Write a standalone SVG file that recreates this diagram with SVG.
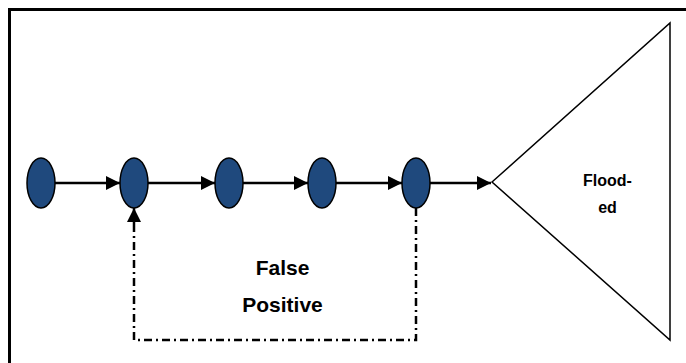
<svg xmlns="http://www.w3.org/2000/svg" width="686" height="363" viewBox="0 0 686 363">
<defs>
<marker id="ah" viewBox="0 0 14 14" refX="14" refY="7" markerWidth="14" markerHeight="14" markerUnits="userSpaceOnUse" orient="auto">
<path d="M0,0 L14,7 L0,14 Z" fill="#000"/>
</marker>
<style>
.node{fill:#1f497d;stroke:#000;stroke-width:1.5}
.conn{stroke:#000;stroke-width:2.5;fill:none}
.dash{stroke:#000;stroke-width:2.5;fill:none;stroke-dasharray:8 4 2 4}
.lbl{font-family:"Liberation Sans",Arial,sans-serif;font-weight:bold;fill:#000;text-anchor:middle}
</style>
</defs>
<rect width="686" height="363" fill="#fff"/>
<rect x="9.5" y="9.5" width="720" height="400" fill="none" stroke="#000" stroke-width="3"/>
<g id="connectors">
<line class="conn" x1="55" y1="183" x2="120" y2="183" marker-end="url(#ah)"/>
<line class="conn" x1="148" y1="183" x2="215" y2="183" marker-end="url(#ah)"/>
<line class="conn" x1="243" y1="183" x2="308" y2="183" marker-end="url(#ah)"/>
<line class="conn" x1="336" y1="183" x2="402" y2="183" marker-end="url(#ah)"/>
<line class="conn" x1="430" y1="183" x2="491" y2="183" marker-end="url(#ah)"/>
<polyline class="dash" points="416,208 416,340 134,340 134,222"/>
<line class="conn" x1="134" y1="224" x2="134" y2="208" marker-end="url(#ah)"/>
</g>
<g id="n1"><ellipse class="node" cx="41" cy="183" rx="14" ry="25"/></g>
<g id="n2"><ellipse class="node" cx="134" cy="183" rx="14" ry="25"/></g>
<g id="n3"><ellipse class="node" cx="229" cy="183" rx="14" ry="25"/></g>
<g id="n4"><ellipse class="node" cx="322" cy="183" rx="14" ry="25"/></g>
<g id="n5"><ellipse class="node" cx="416" cy="183" rx="14" ry="25"/></g>
<g id="flooded">
<polygon points="492,182 670,23 670,340" fill="#fff" stroke="#000" stroke-width="1.5"/>
<text class="lbl" x="607.5" y="186" font-size="16">Flood-</text>
<text class="lbl" x="607.5" y="213" font-size="16">ed</text>
</g>
<g id="false-positive">
<text class="lbl" x="282.5" y="275" font-size="21">False</text>
<text class="lbl" x="282.5" y="312" font-size="21">Positive</text>
</g>
</svg>
